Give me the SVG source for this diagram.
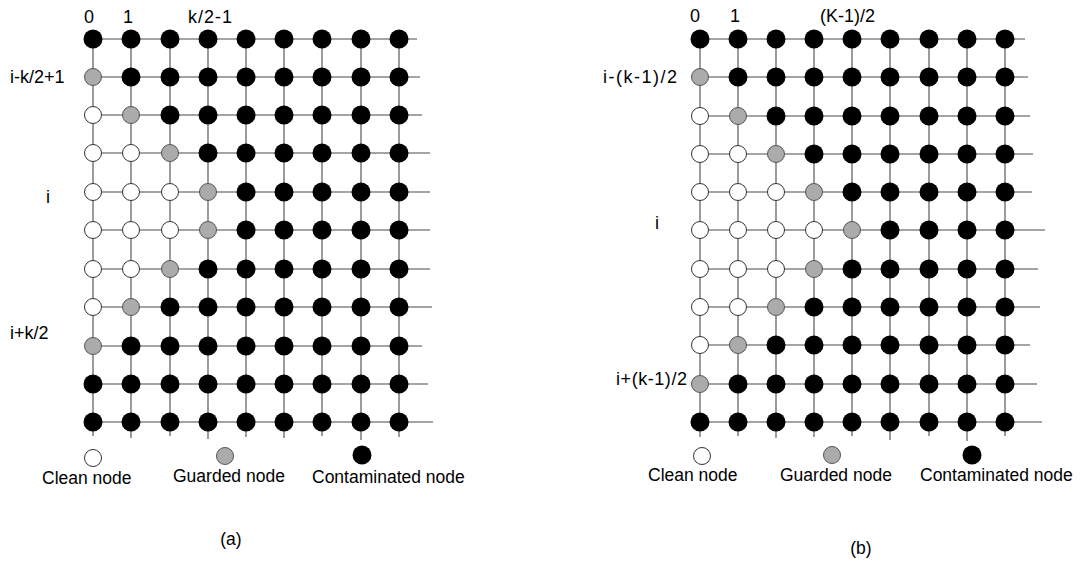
<svg xmlns="http://www.w3.org/2000/svg" width="1087" height="565" viewBox="0 0 1087 565">
<style>
  text { font-family: "Liberation Sans", Arial, sans-serif; font-size: 18px; fill: #000; }
  .lg { font-size: 17.5px; }
  .mid { text-anchor: middle; }
  line { stroke: #4a4a4a; stroke-width: 1.1; }
  .k { fill: #000; }
  .g { fill: #ababab; stroke: #555; stroke-width: 1; }
  .w { fill: #fff; stroke: #333; stroke-width: 1; }
</style>
<rect width="1087" height="565" fill="#fff"/>

<!-- grid wires, panel (a) and panel (b) -->
<g id="connectors">
  <g id="wires-a">
    <line x1="93" y1="39" x2="417" y2="39"/>
    <line x1="93" y1="77" x2="420" y2="77"/>
    <line x1="93" y1="115" x2="422" y2="115"/>
    <line x1="93" y1="153" x2="430" y2="153"/>
    <line x1="93" y1="192" x2="430" y2="192"/>
    <line x1="93" y1="230" x2="430" y2="230"/>
    <line x1="93" y1="269" x2="430" y2="269"/>
    <line x1="93" y1="307" x2="432" y2="307"/>
    <line x1="93" y1="346" x2="422" y2="346"/>
    <line x1="93" y1="384" x2="428" y2="384"/>
    <line x1="93" y1="422" x2="433" y2="422"/>
    <line x1="93" y1="39" x2="93" y2="436"/>
    <line x1="131" y1="39" x2="131" y2="438"/>
    <line x1="170" y1="39" x2="170" y2="436"/>
    <line x1="208" y1="39" x2="208" y2="439"/>
    <line x1="246" y1="39" x2="246" y2="437"/>
    <line x1="284" y1="39" x2="284" y2="438"/>
    <line x1="322" y1="39" x2="322" y2="436"/>
    <line x1="361" y1="39" x2="361" y2="440"/>
    <line x1="399" y1="39" x2="399" y2="437"/>
  </g>
  <g id="wires-b">
    <line x1="700" y1="39" x2="1025" y2="39"/>
    <line x1="700" y1="77" x2="1028" y2="77"/>
    <line x1="700" y1="116" x2="1030" y2="116"/>
    <line x1="700" y1="154" x2="1033" y2="154"/>
    <line x1="700" y1="192" x2="1032" y2="192"/>
    <line x1="700" y1="230" x2="1045" y2="230"/>
    <line x1="700" y1="269" x2="1038" y2="269"/>
    <line x1="700" y1="307" x2="1040" y2="307"/>
    <line x1="700" y1="345" x2="1030" y2="345"/>
    <line x1="700" y1="384" x2="1037" y2="384"/>
    <line x1="700" y1="422" x2="1042" y2="422"/>
    <line x1="700" y1="39" x2="700" y2="437"/>
    <line x1="738" y1="39" x2="738" y2="436"/>
    <line x1="776" y1="39" x2="776" y2="438"/>
    <line x1="814" y1="39" x2="814" y2="437"/>
    <line x1="852" y1="39" x2="852" y2="436"/>
    <line x1="890" y1="39" x2="890" y2="440"/>
    <line x1="929" y1="39" x2="929" y2="436"/>
    <line x1="967" y1="39" x2="967" y2="441"/>
    <line x1="1005" y1="39" x2="1005" y2="436"/>
  </g>
</g>

<!-- panel (a) nodes: row r, column c -->
<g id="nodes-a">
  <g id="a-0-0"><circle class="k" cx="93" cy="39" r="9.5"/></g>
  <g id="a-0-1"><circle class="k" cx="131" cy="39" r="9.5"/></g>
  <g id="a-0-2"><circle class="k" cx="170" cy="39" r="9.5"/></g>
  <g id="a-0-3"><circle class="k" cx="208" cy="39" r="9.5"/></g>
  <g id="a-0-4"><circle class="k" cx="246" cy="39" r="9.5"/></g>
  <g id="a-0-5"><circle class="k" cx="284" cy="39" r="9.5"/></g>
  <g id="a-0-6"><circle class="k" cx="322" cy="39" r="9.5"/></g>
  <g id="a-0-7"><circle class="k" cx="361" cy="39" r="9.5"/></g>
  <g id="a-0-8"><circle class="k" cx="399" cy="39" r="9.5"/></g>

  <g id="a-1-0"><circle class="g" cx="93" cy="77" r="8.5"/></g>
  <g id="a-1-1"><circle class="k" cx="131" cy="77" r="9.5"/></g>
  <g id="a-1-2"><circle class="k" cx="170" cy="77" r="9.5"/></g>
  <g id="a-1-3"><circle class="k" cx="208" cy="77" r="9.5"/></g>
  <g id="a-1-4"><circle class="k" cx="246" cy="77" r="9.5"/></g>
  <g id="a-1-5"><circle class="k" cx="284" cy="77" r="9.5"/></g>
  <g id="a-1-6"><circle class="k" cx="322" cy="77" r="9.5"/></g>
  <g id="a-1-7"><circle class="k" cx="361" cy="77" r="9.5"/></g>
  <g id="a-1-8"><circle class="k" cx="399" cy="77" r="9.5"/></g>

  <g id="a-2-0"><circle class="w" cx="93" cy="115" r="8.5"/></g>
  <g id="a-2-1"><circle class="g" cx="131" cy="115" r="8.5"/></g>
  <g id="a-2-2"><circle class="k" cx="170" cy="115" r="9.5"/></g>
  <g id="a-2-3"><circle class="k" cx="208" cy="115" r="9.5"/></g>
  <g id="a-2-4"><circle class="k" cx="246" cy="115" r="9.5"/></g>
  <g id="a-2-5"><circle class="k" cx="284" cy="115" r="9.5"/></g>
  <g id="a-2-6"><circle class="k" cx="322" cy="115" r="9.5"/></g>
  <g id="a-2-7"><circle class="k" cx="361" cy="115" r="9.5"/></g>
  <g id="a-2-8"><circle class="k" cx="399" cy="115" r="9.5"/></g>

  <g id="a-3-0"><circle class="w" cx="93" cy="153" r="8.5"/></g>
  <g id="a-3-1"><circle class="w" cx="131" cy="153" r="8.5"/></g>
  <g id="a-3-2"><circle class="g" cx="170" cy="153" r="8.5"/></g>
  <g id="a-3-3"><circle class="k" cx="208" cy="153" r="9.5"/></g>
  <g id="a-3-4"><circle class="k" cx="246" cy="153" r="9.5"/></g>
  <g id="a-3-5"><circle class="k" cx="284" cy="153" r="9.5"/></g>
  <g id="a-3-6"><circle class="k" cx="322" cy="153" r="9.5"/></g>
  <g id="a-3-7"><circle class="k" cx="361" cy="153" r="9.5"/></g>
  <g id="a-3-8"><circle class="k" cx="399" cy="153" r="9.5"/></g>

  <g id="a-4-0"><circle class="w" cx="93" cy="192" r="8.5"/></g>
  <g id="a-4-1"><circle class="w" cx="131" cy="192" r="8.5"/></g>
  <g id="a-4-2"><circle class="w" cx="170" cy="192" r="8.5"/></g>
  <g id="a-4-3"><circle class="g" cx="208" cy="192" r="8.5"/></g>
  <g id="a-4-4"><circle class="k" cx="246" cy="192" r="9.5"/></g>
  <g id="a-4-5"><circle class="k" cx="284" cy="192" r="9.5"/></g>
  <g id="a-4-6"><circle class="k" cx="322" cy="192" r="9.5"/></g>
  <g id="a-4-7"><circle class="k" cx="361" cy="192" r="9.5"/></g>
  <g id="a-4-8"><circle class="k" cx="399" cy="192" r="9.5"/></g>

  <g id="a-5-0"><circle class="w" cx="93" cy="230" r="8.5"/></g>
  <g id="a-5-1"><circle class="w" cx="131" cy="230" r="8.5"/></g>
  <g id="a-5-2"><circle class="w" cx="170" cy="230" r="8.5"/></g>
  <g id="a-5-3"><circle class="g" cx="208" cy="230" r="8.5"/></g>
  <g id="a-5-4"><circle class="k" cx="246" cy="230" r="9.5"/></g>
  <g id="a-5-5"><circle class="k" cx="284" cy="230" r="9.5"/></g>
  <g id="a-5-6"><circle class="k" cx="322" cy="230" r="9.5"/></g>
  <g id="a-5-7"><circle class="k" cx="361" cy="230" r="9.5"/></g>
  <g id="a-5-8"><circle class="k" cx="399" cy="230" r="9.5"/></g>

  <g id="a-6-0"><circle class="w" cx="93" cy="269" r="8.5"/></g>
  <g id="a-6-1"><circle class="w" cx="131" cy="269" r="8.5"/></g>
  <g id="a-6-2"><circle class="g" cx="170" cy="269" r="8.5"/></g>
  <g id="a-6-3"><circle class="k" cx="208" cy="269" r="9.5"/></g>
  <g id="a-6-4"><circle class="k" cx="246" cy="269" r="9.5"/></g>
  <g id="a-6-5"><circle class="k" cx="284" cy="269" r="9.5"/></g>
  <g id="a-6-6"><circle class="k" cx="322" cy="269" r="9.5"/></g>
  <g id="a-6-7"><circle class="k" cx="361" cy="269" r="9.5"/></g>
  <g id="a-6-8"><circle class="k" cx="399" cy="269" r="9.5"/></g>

  <g id="a-7-0"><circle class="w" cx="93" cy="307" r="8.5"/></g>
  <g id="a-7-1"><circle class="g" cx="131" cy="307" r="8.5"/></g>
  <g id="a-7-2"><circle class="k" cx="170" cy="307" r="9.5"/></g>
  <g id="a-7-3"><circle class="k" cx="208" cy="307" r="9.5"/></g>
  <g id="a-7-4"><circle class="k" cx="246" cy="307" r="9.5"/></g>
  <g id="a-7-5"><circle class="k" cx="284" cy="307" r="9.5"/></g>
  <g id="a-7-6"><circle class="k" cx="322" cy="307" r="9.5"/></g>
  <g id="a-7-7"><circle class="k" cx="361" cy="307" r="9.5"/></g>
  <g id="a-7-8"><circle class="k" cx="399" cy="307" r="9.5"/></g>

  <g id="a-8-0"><circle class="g" cx="93" cy="346" r="8.5"/></g>
  <g id="a-8-1"><circle class="k" cx="131" cy="346" r="9.5"/></g>
  <g id="a-8-2"><circle class="k" cx="170" cy="346" r="9.5"/></g>
  <g id="a-8-3"><circle class="k" cx="208" cy="346" r="9.5"/></g>
  <g id="a-8-4"><circle class="k" cx="246" cy="346" r="9.5"/></g>
  <g id="a-8-5"><circle class="k" cx="284" cy="346" r="9.5"/></g>
  <g id="a-8-6"><circle class="k" cx="322" cy="346" r="9.5"/></g>
  <g id="a-8-7"><circle class="k" cx="361" cy="346" r="9.5"/></g>
  <g id="a-8-8"><circle class="k" cx="399" cy="346" r="9.5"/></g>

  <g id="a-9-0"><circle class="k" cx="93" cy="384" r="9.5"/></g>
  <g id="a-9-1"><circle class="k" cx="131" cy="384" r="9.5"/></g>
  <g id="a-9-2"><circle class="k" cx="170" cy="384" r="9.5"/></g>
  <g id="a-9-3"><circle class="k" cx="208" cy="384" r="9.5"/></g>
  <g id="a-9-4"><circle class="k" cx="246" cy="384" r="9.5"/></g>
  <g id="a-9-5"><circle class="k" cx="284" cy="384" r="9.5"/></g>
  <g id="a-9-6"><circle class="k" cx="322" cy="384" r="9.5"/></g>
  <g id="a-9-7"><circle class="k" cx="361" cy="384" r="9.5"/></g>
  <g id="a-9-8"><circle class="k" cx="399" cy="384" r="9.5"/></g>

  <g id="a-10-0"><circle class="k" cx="93" cy="422" r="9.5"/></g>
  <g id="a-10-1"><circle class="k" cx="131" cy="422" r="9.5"/></g>
  <g id="a-10-2"><circle class="k" cx="170" cy="422" r="9.5"/></g>
  <g id="a-10-3"><circle class="k" cx="208" cy="422" r="9.5"/></g>
  <g id="a-10-4"><circle class="k" cx="246" cy="422" r="9.5"/></g>
  <g id="a-10-5"><circle class="k" cx="284" cy="422" r="9.5"/></g>
  <g id="a-10-6"><circle class="k" cx="322" cy="422" r="9.5"/></g>
  <g id="a-10-7"><circle class="k" cx="361" cy="422" r="9.5"/></g>
  <g id="a-10-8"><circle class="k" cx="399" cy="422" r="9.5"/></g>
</g>

<!-- panel (b) nodes: row r, column c -->
<g id="nodes-b">
  <g id="b-0-0"><circle class="k" cx="700" cy="39" r="9.5"/></g>
  <g id="b-0-1"><circle class="k" cx="738" cy="39" r="9.5"/></g>
  <g id="b-0-2"><circle class="k" cx="776" cy="39" r="9.5"/></g>
  <g id="b-0-3"><circle class="k" cx="814" cy="39" r="9.5"/></g>
  <g id="b-0-4"><circle class="k" cx="852" cy="39" r="9.5"/></g>
  <g id="b-0-5"><circle class="k" cx="890" cy="39" r="9.5"/></g>
  <g id="b-0-6"><circle class="k" cx="929" cy="39" r="9.5"/></g>
  <g id="b-0-7"><circle class="k" cx="967" cy="39" r="9.5"/></g>
  <g id="b-0-8"><circle class="k" cx="1005" cy="39" r="9.5"/></g>

  <g id="b-1-0"><circle class="g" cx="700" cy="77" r="8.5"/></g>
  <g id="b-1-1"><circle class="k" cx="738" cy="77" r="9.5"/></g>
  <g id="b-1-2"><circle class="k" cx="776" cy="77" r="9.5"/></g>
  <g id="b-1-3"><circle class="k" cx="814" cy="77" r="9.5"/></g>
  <g id="b-1-4"><circle class="k" cx="852" cy="77" r="9.5"/></g>
  <g id="b-1-5"><circle class="k" cx="890" cy="77" r="9.5"/></g>
  <g id="b-1-6"><circle class="k" cx="929" cy="77" r="9.5"/></g>
  <g id="b-1-7"><circle class="k" cx="967" cy="77" r="9.5"/></g>
  <g id="b-1-8"><circle class="k" cx="1005" cy="77" r="9.5"/></g>

  <g id="b-2-0"><circle class="w" cx="700" cy="116" r="8.5"/></g>
  <g id="b-2-1"><circle class="g" cx="738" cy="116" r="8.5"/></g>
  <g id="b-2-2"><circle class="k" cx="776" cy="116" r="9.5"/></g>
  <g id="b-2-3"><circle class="k" cx="814" cy="116" r="9.5"/></g>
  <g id="b-2-4"><circle class="k" cx="852" cy="116" r="9.5"/></g>
  <g id="b-2-5"><circle class="k" cx="890" cy="116" r="9.5"/></g>
  <g id="b-2-6"><circle class="k" cx="929" cy="116" r="9.5"/></g>
  <g id="b-2-7"><circle class="k" cx="967" cy="116" r="9.5"/></g>
  <g id="b-2-8"><circle class="k" cx="1005" cy="116" r="9.5"/></g>

  <g id="b-3-0"><circle class="w" cx="700" cy="154" r="8.5"/></g>
  <g id="b-3-1"><circle class="w" cx="738" cy="154" r="8.5"/></g>
  <g id="b-3-2"><circle class="g" cx="776" cy="154" r="8.5"/></g>
  <g id="b-3-3"><circle class="k" cx="814" cy="154" r="9.5"/></g>
  <g id="b-3-4"><circle class="k" cx="852" cy="154" r="9.5"/></g>
  <g id="b-3-5"><circle class="k" cx="890" cy="154" r="9.5"/></g>
  <g id="b-3-6"><circle class="k" cx="929" cy="154" r="9.5"/></g>
  <g id="b-3-7"><circle class="k" cx="967" cy="154" r="9.5"/></g>
  <g id="b-3-8"><circle class="k" cx="1005" cy="154" r="9.5"/></g>

  <g id="b-4-0"><circle class="w" cx="700" cy="192" r="8.5"/></g>
  <g id="b-4-1"><circle class="w" cx="738" cy="192" r="8.5"/></g>
  <g id="b-4-2"><circle class="w" cx="776" cy="192" r="8.5"/></g>
  <g id="b-4-3"><circle class="g" cx="814" cy="192" r="8.5"/></g>
  <g id="b-4-4"><circle class="k" cx="852" cy="192" r="9.5"/></g>
  <g id="b-4-5"><circle class="k" cx="890" cy="192" r="9.5"/></g>
  <g id="b-4-6"><circle class="k" cx="929" cy="192" r="9.5"/></g>
  <g id="b-4-7"><circle class="k" cx="967" cy="192" r="9.5"/></g>
  <g id="b-4-8"><circle class="k" cx="1005" cy="192" r="9.5"/></g>

  <g id="b-5-0"><circle class="w" cx="700" cy="230" r="8.5"/></g>
  <g id="b-5-1"><circle class="w" cx="738" cy="230" r="8.5"/></g>
  <g id="b-5-2"><circle class="w" cx="776" cy="230" r="8.5"/></g>
  <g id="b-5-3"><circle class="w" cx="814" cy="230" r="8.5"/></g>
  <g id="b-5-4"><circle class="g" cx="852" cy="230" r="8.5"/></g>
  <g id="b-5-5"><circle class="k" cx="890" cy="230" r="9.5"/></g>
  <g id="b-5-6"><circle class="k" cx="929" cy="230" r="9.5"/></g>
  <g id="b-5-7"><circle class="k" cx="967" cy="230" r="9.5"/></g>
  <g id="b-5-8"><circle class="k" cx="1005" cy="230" r="9.5"/></g>

  <g id="b-6-0"><circle class="w" cx="700" cy="269" r="8.5"/></g>
  <g id="b-6-1"><circle class="w" cx="738" cy="269" r="8.5"/></g>
  <g id="b-6-2"><circle class="w" cx="776" cy="269" r="8.5"/></g>
  <g id="b-6-3"><circle class="g" cx="814" cy="269" r="8.5"/></g>
  <g id="b-6-4"><circle class="k" cx="852" cy="269" r="9.5"/></g>
  <g id="b-6-5"><circle class="k" cx="890" cy="269" r="9.5"/></g>
  <g id="b-6-6"><circle class="k" cx="929" cy="269" r="9.5"/></g>
  <g id="b-6-7"><circle class="k" cx="967" cy="269" r="9.5"/></g>
  <g id="b-6-8"><circle class="k" cx="1005" cy="269" r="9.5"/></g>

  <g id="b-7-0"><circle class="w" cx="700" cy="307" r="8.5"/></g>
  <g id="b-7-1"><circle class="w" cx="738" cy="307" r="8.5"/></g>
  <g id="b-7-2"><circle class="g" cx="776" cy="307" r="8.5"/></g>
  <g id="b-7-3"><circle class="k" cx="814" cy="307" r="9.5"/></g>
  <g id="b-7-4"><circle class="k" cx="852" cy="307" r="9.5"/></g>
  <g id="b-7-5"><circle class="k" cx="890" cy="307" r="9.5"/></g>
  <g id="b-7-6"><circle class="k" cx="929" cy="307" r="9.5"/></g>
  <g id="b-7-7"><circle class="k" cx="967" cy="307" r="9.5"/></g>
  <g id="b-7-8"><circle class="k" cx="1005" cy="307" r="9.5"/></g>

  <g id="b-8-0"><circle class="w" cx="700" cy="345" r="8.5"/></g>
  <g id="b-8-1"><circle class="g" cx="738" cy="345" r="8.5"/></g>
  <g id="b-8-2"><circle class="k" cx="776" cy="345" r="9.5"/></g>
  <g id="b-8-3"><circle class="k" cx="814" cy="345" r="9.5"/></g>
  <g id="b-8-4"><circle class="k" cx="852" cy="345" r="9.5"/></g>
  <g id="b-8-5"><circle class="k" cx="890" cy="345" r="9.5"/></g>
  <g id="b-8-6"><circle class="k" cx="929" cy="345" r="9.5"/></g>
  <g id="b-8-7"><circle class="k" cx="967" cy="345" r="9.5"/></g>
  <g id="b-8-8"><circle class="k" cx="1005" cy="345" r="9.5"/></g>

  <g id="b-9-0"><circle class="g" cx="700" cy="384" r="8.5"/></g>
  <g id="b-9-1"><circle class="k" cx="738" cy="384" r="9.5"/></g>
  <g id="b-9-2"><circle class="k" cx="776" cy="384" r="9.5"/></g>
  <g id="b-9-3"><circle class="k" cx="814" cy="384" r="9.5"/></g>
  <g id="b-9-4"><circle class="k" cx="852" cy="384" r="9.5"/></g>
  <g id="b-9-5"><circle class="k" cx="890" cy="384" r="9.5"/></g>
  <g id="b-9-6"><circle class="k" cx="929" cy="384" r="9.5"/></g>
  <g id="b-9-7"><circle class="k" cx="967" cy="384" r="9.5"/></g>
  <g id="b-9-8"><circle class="k" cx="1005" cy="384" r="9.5"/></g>

  <g id="b-10-0"><circle class="k" cx="700" cy="422" r="9.5"/></g>
  <g id="b-10-1"><circle class="k" cx="738" cy="422" r="9.5"/></g>
  <g id="b-10-2"><circle class="k" cx="776" cy="422" r="9.5"/></g>
  <g id="b-10-3"><circle class="k" cx="814" cy="422" r="9.5"/></g>
  <g id="b-10-4"><circle class="k" cx="852" cy="422" r="9.5"/></g>
  <g id="b-10-5"><circle class="k" cx="890" cy="422" r="9.5"/></g>
  <g id="b-10-6"><circle class="k" cx="929" cy="422" r="9.5"/></g>
  <g id="b-10-7"><circle class="k" cx="967" cy="422" r="9.5"/></g>
  <g id="b-10-8"><circle class="k" cx="1005" cy="422" r="9.5"/></g>
</g>

<!-- axis labels -->
<g id="labels-a">
  <text class="mid" x="89" y="23">0</text>
  <text class="mid" x="128" y="23">1</text>
  <text x="188" y="23" textLength="44" lengthAdjust="spacing">k/2-1</text>
  <text x="10" y="83">i-k/2+1</text>
  <text class="mid" x="48" y="203">i</text>
  <text x="10" y="339">i+k/2</text>
</g>
<g id="labels-b">
  <text class="mid" x="695" y="22">0</text>
  <text class="mid" x="735" y="22">1</text>
  <text x="820" y="22">(K-1)/2</text>
  <text x="603" y="83" textLength="74" lengthAdjust="spacing">i-(k-1)/2</text>
  <text class="mid" x="657" y="229">i</text>
  <text x="616" y="385" textLength="71" lengthAdjust="spacing">i+(k-1)/2</text>
</g>

<!-- legends -->
<g id="legend-a">
  <g id="legend-a-clean"><circle class="w" cx="93" cy="458" r="8.5"/><text class="lg" x="42" y="484">Clean node</text></g>
  <g id="legend-a-guarded"><circle class="g" cx="225" cy="456" r="8.5"/><text class="lg" x="173" y="482">Guarded node</text></g>
  <g id="legend-a-contaminated"><circle class="k" cx="362" cy="455" r="9.5"/><text class="lg" x="312" y="483">Contaminated node</text></g>
  <text class="lg mid" x="231" y="545">(a)</text>
</g>
<g id="legend-b">
  <g id="legend-b-clean"><circle class="w" cx="702" cy="456" r="8.5"/><text class="lg" x="648" y="481">Clean node</text></g>
  <g id="legend-b-guarded"><circle class="g" cx="832" cy="455" r="8.5"/><text class="lg" x="780" y="481">Guarded node</text></g>
  <g id="legend-b-contaminated"><circle class="k" cx="972" cy="455" r="9.5"/><text class="lg" x="920" y="481">Contaminated node</text></g>
  <text class="lg mid" x="861" y="554">(b)</text>
</g>
</svg>
